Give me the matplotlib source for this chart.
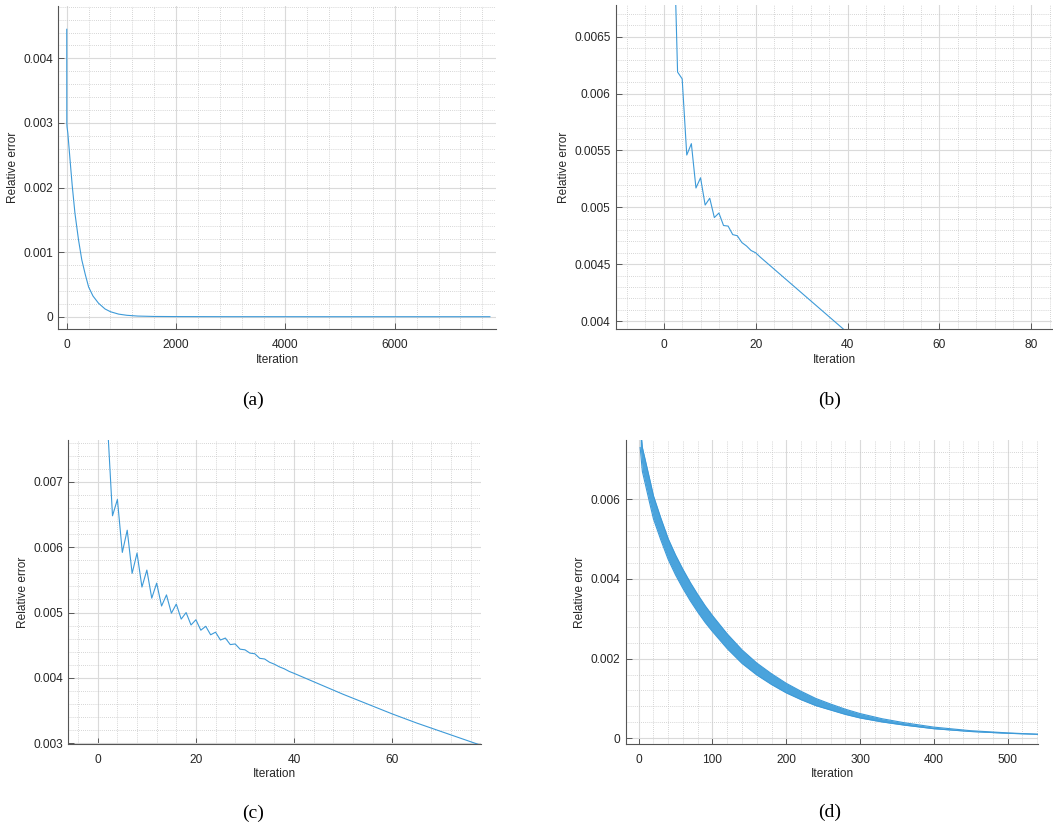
import matplotlib
matplotlib.use("Agg")
import matplotlib.pyplot as plt
from matplotlib.ticker import MultipleLocator, FuncFormatter

# ---- data ------------------------------------------------------------------
# (a) full run
a_iter = [0, 1, 5, 20, 60, 100, 150, 215, 275, 340, 400, 480, 580, 700, 800,
          950, 1100, 1300, 1600, 2000, 3000, 5000, 7740]
a_err = [0.00445, 0.00300, 0.00294, 0.00284, 0.00243, 0.00203, 0.00160, 0.00119,
         0.00088, 0.00065, 0.00046, 0.00032, 0.00021, 0.00012, 0.000077,
         0.000040, 0.000022, 0.000010, 0.000004, 0.000002, 0.0000005, 0.0, 0.0]

# (b) first iterations
b_iter = [0, 1, 2, 3, 4, 5, 6, 7, 8, 9, 10, 11, 12, 13, 14, 15, 16, 17, 18, 19,
          20, 21, 25, 30, 35, 40, 45]
b_err = [0.0105, 0.0090, 0.0077, 0.00619, 0.00613, 0.00546, 0.00556, 0.00517,
         0.00526, 0.00502, 0.00508, 0.00491, 0.00495, 0.00484, 0.004835, 0.00476,
         0.00475, 0.00469, 0.00466, 0.00462, 0.00460, 0.004562, 0.004422, 0.004247,
         0.004072, 0.003897, 0.003722]

# (c) zig-zag start
c_iter = list(range(0, 41)) + [45, 50, 55, 60, 65, 70, 75, 80]
c_err = [0.0100, 0.0090, 0.00786, 0.00648, 0.00673, 0.00592, 0.00626, 0.00560,
         0.00591, 0.00539, 0.00565, 0.00522, 0.00545, 0.00510, 0.00527, 0.00499,
         0.00513, 0.00490, 0.00500, 0.00481, 0.00489, 0.00473, 0.00479, 0.00466,
         0.00470, 0.00458, 0.00461, 0.00451, 0.00452, 0.00444, 0.00443, 0.00438,
         0.00437, 0.00430, 0.00429, 0.00424, 0.00421, 0.00417, 0.00414, 0.00410,
         0.00407, 0.00391, 0.00375, 0.00360, 0.00345, 0.00331, 0.00318, 0.00305,
         0.00292]

# (d) oscillating run: upper / lower envelope of the zig-zag band
d_iter = [2, 5, 10, 15, 20, 30, 40, 50, 60, 70, 80, 90, 100, 120, 140, 160, 180,
          200, 220, 240, 260, 280, 300, 330, 360, 400, 450, 500, 541]
d_upper = [0.00790, 0.00730, 0.00690, 0.00650, 0.00609, 0.00553, 0.00501, 0.00460,
           0.00424, 0.00391, 0.00361, 0.00333, 0.00308, 0.00262, 0.00222, 0.00189,
           0.00162, 0.00138, 0.00118, 0.00100, 0.00086, 0.00073, 0.00062, 0.00049,
           0.00039, 0.00028, 0.00019, 0.000135, 0.00010]
d_lower = [0.00730, 0.00670, 0.00630, 0.00590, 0.00551, 0.00498, 0.00449, 0.00410,
           0.00376, 0.00345, 0.00317, 0.00291, 0.00268, 0.00225, 0.00188, 0.00159,
           0.00135, 0.00114, 0.00097, 0.00082, 0.00071, 0.00060, 0.00051, 0.00041,
           0.00033, 0.00024, 0.00017, 0.000125, 0.00010]

LINE = "#3d9ad8"
TXT = "#262626"

fig = plt.figure(figsize=(10.53, 8.27), dpi=100)
plt.rcParams["font.family"] = ["Liberation Sans", "DejaVu Sans"]


def style(ax, xlim, ylim, xmaj, xmin, ymaj, ymin):
    ax.set_xlim(*xlim)
    ax.set_ylim(*ylim)
    ax.xaxis.set_major_locator(MultipleLocator(xmaj))
    ax.xaxis.set_minor_locator(MultipleLocator(xmin))
    ax.yaxis.set_major_locator(MultipleLocator(ymaj))
    ax.yaxis.set_minor_locator(MultipleLocator(ymin))
    fmt = FuncFormatter(lambda v, p: "%g" % round(v, 8))
    ax.xaxis.set_major_formatter(fmt)
    ax.yaxis.set_major_formatter(fmt)
    ax.grid(True, which="major", color="#dadada", linewidth=0.8, linestyle="-")
    ax.grid(True, which="minor", color="#c8c8c8", linewidth=0.6, linestyle=(0, (1, 1.5)))
    ax.set_axisbelow(True)
    ax.spines[["top", "right"]].set_visible(False)
    for s in ["left", "bottom"]:
        ax.spines[s].set_color("#555555")
        ax.spines[s].set_linewidth(0.8)
    ax.tick_params(which="major", direction="in", length=4, width=0.6,
                   color="#444444", labelcolor=TXT, labelsize=8.6)
    ax.tick_params(axis="x", which="major", pad=7)
    ax.tick_params(axis="y", which="major", pad=4)
    ax.tick_params(which="minor", length=0)
    ax.set_xlabel("Iteration", fontsize=8.6, color=TXT, labelpad=2)
    ax.set_ylabel("Relative error", fontsize=8.6, color=TXT, labelpad=3)


# ── (a) ──────────────────────────────────────────────────────────────────────
ax = fig.add_axes([0.0554, 0.6018, 0.4154, 0.3909])
ax.plot(a_iter, a_err, color=LINE, linewidth=0.8)
style(ax, (-154, 7847), (-0.000195, 0.00481), 2000, 400, 0.001, 0.0002)

# ── (b) ──────────────────────────────────────────────────────────────────────
ax = fig.add_axes([0.585, 0.6018, 0.4141, 0.3922])
ax.plot(b_iter, b_err, color=LINE, linewidth=0.8)
style(ax, (-10.4, 84.5), (0.003927, 0.00678), 20, 4, 0.0005, 0.0001)

# ── (c) ──────────────────────────────────────────────────────────────────────
ax = fig.add_axes([0.0649, 0.1004, 0.3919, 0.3676])
ax.plot(c_iter, c_err, color=LINE, linewidth=0.8)
style(ax, (-6, 78.1), (0.00299, 0.00764), 20, 4, 0.001, 0.0002)

# ── (d) ──────────────────────────────────────────────────────────────────────
ax = fig.add_axes([0.5942, 0.1004, 0.3918, 0.3676])
ax.fill_between(d_iter, d_lower, d_upper, color="#4aa3dc", linewidth=0)
ax.plot(d_iter, d_upper, color=LINE, linewidth=0.8)
ax.plot(d_iter, d_lower, color=LINE, linewidth=0.8)
style(ax, (-17.6, 541.5), (-0.000143, 0.00749), 100, 20, 0.002, 0.0004)

# captions
for x, y, s in [(253, 400, "(a)"), (830, 400, "(b)"), (253, 813, "(c)"), (830, 812, "(d)")]:
    fig.text(x / 1053, 1 - y / 827, s, ha="center", va="center",
             fontsize=14, family="Liberation Serif", color="black")

fig.savefig("out.png", dpi=100)
